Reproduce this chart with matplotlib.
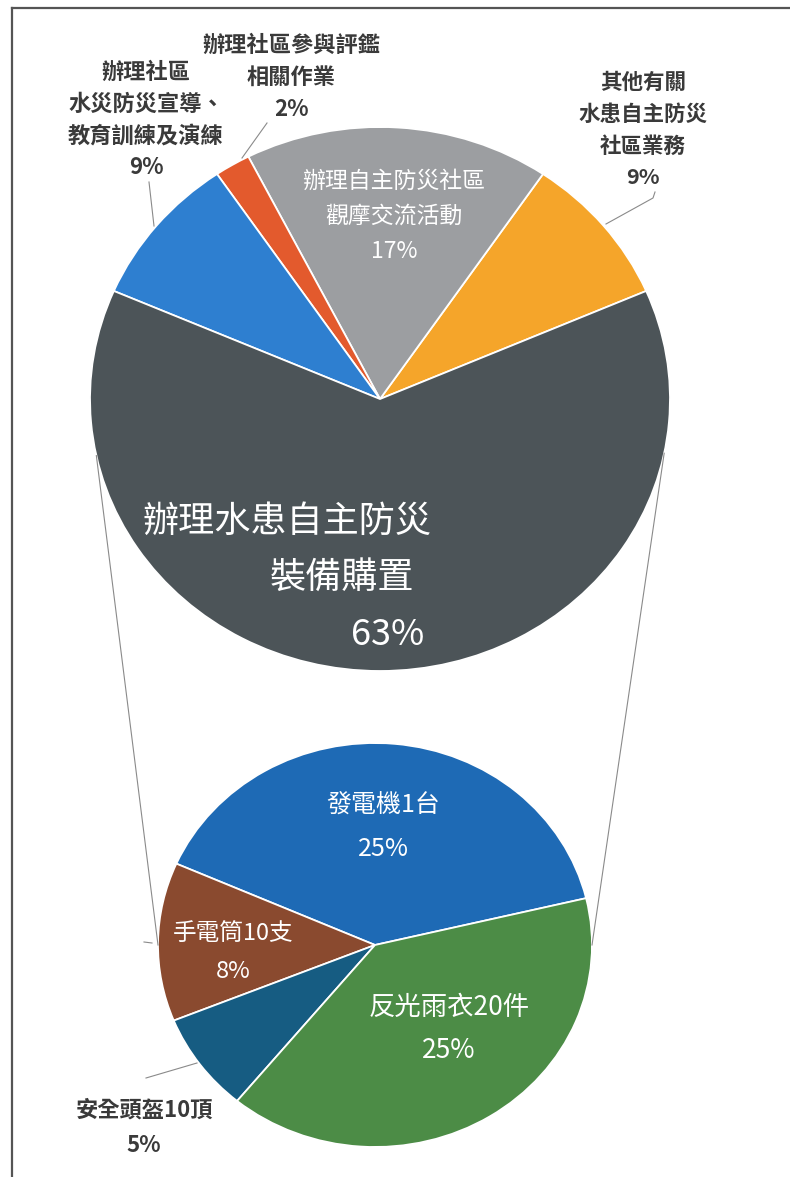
import numpy as np
import matplotlib
matplotlib.use("Agg")
import matplotlib.pyplot as plt

plt.rcParams['font.family'] = ['Noto Sans CJK TC', 'DejaVu Sans']

# top pie (share of total budget, %)
top_labels = ["其他有關\n水患自主防災\n社區業務", "辦理自主防災社區\n觀摩交流活動",
              "辦理社區參與評鑑\n相關作業", "辦理社區\n水災防災宣導、\n教育訓練及演練",
              "辦理水患自主防災\n裝備購置"]
top_values = [9, 17, 2, 9, 63]
top_colors = ["#F5A52A", "#9C9EA1", "#E35A2D", "#2E7FD0", "#4C5458"]

# bottom pie (breakdown of equipment purchase, % of total)
sub_labels = ["發電機1台", "手電筒10支", "安全頭盔10頂", "反光雨衣20件"]
sub_values = [25, 8, 5, 25]
sub_colors = ["#1E6AB5", "#8A4A2F", "#165C82", "#4C8C46"]

W, H = 790, 1177
TXT = "#3A3A3A"

# pie geometry in pixels: centre x, centre y, x radius, y radius
TOP = (380, 399, 290, 272)
SUB = (375, 945, 217, 202)


def pie_axes(fig, geo):
    cx, cy, rx, ry = geo
    ax = fig.add_axes([(cx - rx) / W, (H - cy - ry) / H, 2 * rx / W, 2 * ry / H])
    return ax


def on_ellipse(geo, deg):
    cx, cy, rx, ry = geo
    t = np.radians(deg)
    return cx + rx * np.cos(t), cy - ry * np.sin(t)


def put(ax, x, y, lines, size, color, dy, weight="normal"):
    y0 = y - dy * (len(lines) - 1) / 2
    for i, s in enumerate(lines):
        ax.text(x, y0 + i * dy, s, ha="center", va="center", fontsize=size,
                color=color, fontweight=weight)


fig = plt.figure(figsize=(W / 100, H / 100), dpi=100)

# big slice centred on the bottom, the rest follow counter-clockwise
ax1 = pie_axes(fig, TOP)
start_top = (270 + top_values[-1] / sum(top_values) * 360 / 2) % 360
ax1.pie(top_values, colors=top_colors, startangle=start_top, counterclock=True,
        radius=1, wedgeprops=dict(edgecolor="white", linewidth=1.3))
ax1.set_aspect("auto")
ax1.set_xlim(-1, 1)
ax1.set_ylim(-1, 1)
ax1.axis("off")

ax2 = pie_axes(fig, SUB)
start_sub = 13.4
ax2.pie(sub_values, colors=sub_colors, startangle=start_sub, counterclock=True,
        radius=1, wedgeprops=dict(edgecolor="white", linewidth=1.3))
ax2.set_aspect("auto")
ax2.set_xlim(-1, 1)
ax2.set_ylim(-1, 1)
ax2.axis("off")

# overlay in pixel coordinates for labels, leader lines and frame
ax0 = fig.add_axes([0, 0, 1, 1], zorder=5)
ax0.set_xlim(0, W)
ax0.set_ylim(H, 0)
ax0.axis("off")
ax0.patch.set_alpha(0)

# connector lines between pies
for a_top, a_sub in [(192, 180), (348.5, 0)]:
    x1, y1 = on_ellipse(TOP, a_top)
    x2, y2 = on_ellipse(SUB, a_sub)
    ax0.plot([x1, x2], [y1, y2], color="#8A8A8A", lw=0.8)

# leader lines
lc = dict(color="#8A8A8A", lw=0.8)
ax0.plot([149, 154], [182, 226], **lc)
ax0.plot([267, 242], [123, 158], **lc)
ax0.plot([655, 653, 606], [192, 198, 224], **lc)
ax0.plot([146, 197], [1078, 1063], **lc)
ax0.plot([144, 152], [942, 943], **lc)

pct = [f"{v}%" for v in top_values]
spct = [f"{v}%" for v in sub_values]

# top pie labels
put(ax0, 643, 130, top_labels[0].split("\n") + [pct[0]], 15.5, TXT, 32, "bold")
put(ax0, 394, 216, top_labels[1].split("\n") + [pct[1]], 16.5, "white", 35)
put(ax0, 291, 77, top_labels[2].split("\n") + [pct[2]], 16, TXT, 32, "bold")
put(ax0, 146, 120, top_labels[3].split("\n") + [pct[3]], 16, TXT, 32, "bold")
big = top_labels[4].split("\n") + [pct[4]]
for s, (x, y) in zip(big, [(287, 522), (342, 578), (388, 635)]):
    ax0.text(x, y, s, ha="center", va="center", fontsize=26, color="white")

# bottom pie labels
put(ax0, 383, 827, [sub_labels[0], spct[0]], 18, "white", 44)
put(ax0, 233, 952, [sub_labels[1], spct[1]], 17, "white", 38)
put(ax0, 144, 1128, [sub_labels[2], spct[2]], 16, TXT, 36, "bold")
put(ax0, 449, 1029, [sub_labels[3], spct[3]], 19, "white", 44)

# scanned page frame
ax0.plot([12, W], [8, 8], color="#555555", lw=1.6)
ax0.plot([12, 12], [8, H], color="#555555", lw=1.6)

fig.savefig("out.png", dpi=100)
